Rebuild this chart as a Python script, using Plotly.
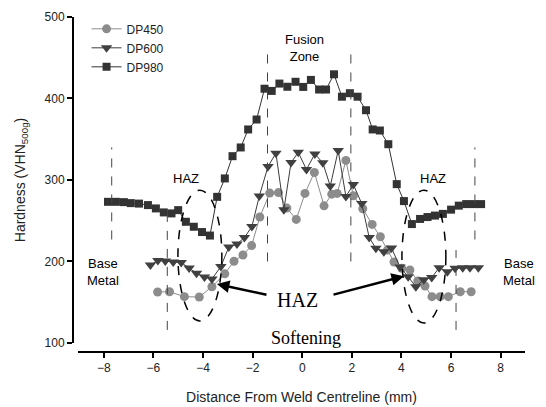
import plotly.graph_objects as go

# hardness traverse data (distance in mm, hardness in VHN)
dp450_x = [-5.83, -5.35, -4.75, -4.15, -3.64, -3.12, -2.75, -2.39, -2.04, -1.71, -1.31, -0.96,
           -0.62, -0.24, 0.11, 0.49, 0.88, 1.19, 1.41, 1.76, 2.06, 2.44, 2.82, 3.15, 3.43, 3.70,
           4.01, 4.34, 4.66, 4.95, 5.23, 5.56, 5.89, 6.37, 6.81]
dp450_y = [162.5, 162.9, 156.8, 156.4, 169.0, 184.8, 200.3, 207.9, 219.5, 254.5, 283.9, 284.5,
           265.5, 251.6, 283.5, 309.2, 268.3, 282.6, 283.5, 324.0, 280.6, 264.7, 245.5, 230.3,
           214.0, 199.3, 191.6, 189.5, 176.0, 169.9, 156.8, 156.8, 156.8, 162.9, 162.9]

dp600_x = [-6.12, -5.82, -5.52, -5.20, -4.88, -4.56, -4.26, -3.94, -3.64, -3.28, -2.96, -2.63,
           -2.33, -2.03, -1.73, -1.38, -1.06, -0.74, -0.45, -0.16, 0.17, 0.51, 0.83, 1.13, 1.45,
           1.76, 2.06, 2.40, 2.70, 2.97, 3.29, 3.60, 3.94, 4.27, 4.58, 4.90, 5.22, 5.52, 5.85,
           6.16, 6.47, 6.76, 7.10]
dp600_y = [195.6, 201.1, 200.5, 199.3, 198.7, 191.9, 185.4, 180.9, 178.5, 193.8, 217.7, 221.4,
           229.3, 242.8, 280.2, 316.4, 332.9, 263.6, 321.3, 333.9, 312.9, 332.0, 321.0, 292.5,
           336.1, 279.8, 294.3, 271.0, 229.3, 216.1, 211.9, 216.5, 193.2, 181.3, 169.0, 177.6,
           180.3, 192.2, 187.4, 191.6, 192.2, 192.2, 192.2]

dp980_x = [-7.83, -7.51, -7.19, -6.91, -6.58, -6.22, -5.90, -5.58, -5.27, -5.00, -4.69, -4.37,
           -4.04, -3.72, -3.43, -3.12, -2.81, -2.48, -2.18, -1.84, -1.52, -1.23, -0.92, -0.60,
           -0.27, 0.04, 0.35, 0.68, 0.96, 1.28, 1.60, 1.92, 2.23, 2.57, 2.84, 3.13, 3.47, 3.81,
           4.10, 4.42, 4.75, 5.05, 5.35, 5.67, 6.00, 6.31, 6.61, 6.92, 7.21]
dp980_y = [273.2, 273.2, 272.8, 271.6, 271.0, 269.2, 265.1, 260.2, 259.0, 263.0, 248.7, 242.6,
           236.1, 231.8, 279.3, 301.9, 329.2, 339.9, 362.0, 374.2, 412.0, 409.3, 418.3, 414.4,
           420.5, 414.2, 422.8, 411.0, 411.0, 429.7, 402.2, 406.5, 402.2, 385.6, 362.0, 360.7,
           343.9, 294.9, 274.1, 245.9, 252.2, 254.5, 256.3, 258.4, 263.6, 268.5, 270.4, 270.4,
           270.4]

# zone boundaries (x, y from, y to)
bound_x = [-7.68, -5.44, -1.40, 1.96, 6.20, 6.96]
bound_y0 = [227, 116, 200, 200, 116, 227]
bound_y1 = [340, 261, 463, 463, 214, 340]

SANS = "Arial, Liberation Sans, sans-serif"
SERIF = "Times New Roman, Liberation Serif, serif"

fig = go.Figure()

fig.add_trace(go.Scatter(
    x=dp450_x, y=dp450_y, name="DP450", mode="lines+markers",
    line=dict(color="#8c8c8c", width=1),
    marker=dict(symbol="circle", size=9, color="#8c8c8c"),
))
fig.add_trace(go.Scatter(
    x=dp600_x, y=dp600_y, name="DP600", mode="lines+markers",
    line=dict(color="#3c3c3c", width=1),
    marker=dict(symbol="triangle-down", size=10, color="#404040"),
))
fig.add_trace(go.Scatter(
    x=dp980_x, y=dp980_y, name="DP980", mode="lines+markers",
    line=dict(color="#333333", width=1),
    marker=dict(symbol="square", size=8, color="#333333"),
))

for bx, y0, y1 in zip(bound_x, bound_y0, bound_y1):
    fig.add_shape(type="line", x0=bx, x1=bx, y0=y0, y1=y1, xref="x", yref="y",
                  line=dict(color="#444444", width=1, dash="dash"))

# HAZ ellipses
fig.add_shape(type="circle", x0=-5.01, x1=-3.24, y0=127, y1=287.5, xref="x", yref="y",
              line=dict(color="black", width=1.5, dash="dash"))
fig.add_shape(type="circle", x0=4.02, x1=5.79, y0=124.5, y1=287.5, xref="x", yref="y",
              line=dict(color="black", width=1.5, dash="dash"))

labels = [
    ("Fusion<br>Zone", 0.11, 461.6),
    ("HAZ", -4.69, 302.3),
    ("HAZ", 5.27, 302.3),
    ("Base<br>Metal", -8.03, 187),
    ("Base<br>Metal", 8.74, 187),
]
for txt, lx, ly in labels:
    fig.add_annotation(x=lx, y=ly, text=txt, showarrow=False,
                       font=dict(family=SANS, size=13, color="black"))

fig.add_annotation(x=-0.21, y=152.7, text="HAZ", showarrow=False,
                   font=dict(family=SERIF, size=20, color="black"))
fig.add_annotation(x=0.15, y=106, text="Softening", showarrow=False,
                   font=dict(family=SERIF, size=18, color="black"))

# arrows from the HAZ label to the soft spots
for hx, hy, tx, ty in [(-3.44, 172.3, -1.38, 158.8), (4.1, 182, 1.2, 158.8)]:
    fig.add_annotation(x=hx, y=hy, ax=tx, ay=ty, xref="x", yref="y", axref="x", ayref="y",
                       text="", showarrow=True, arrowhead=2, arrowsize=1,
                       arrowwidth=2.5, arrowcolor="black")

fig.update_layout(
    width=546,
    height=407,
    margin=dict(l=73, r=21, t=17, b=55, autoexpand=False),
    plot_bgcolor="white",
    paper_bgcolor="white",
    font=dict(family=SANS, size=12, color="#222222"),
    showlegend=True,
    legend=dict(x=0.03, y=1.008, xanchor="left", yanchor="top",
                bgcolor="rgba(0,0,0,0)", font=dict(size=12, color="#222222"),
                tracegroupgap=0),
    xaxis=dict(
        range=[-9.04, 8.98], domain=[0.011, 1], anchor="free", position=0,
        automargin=False,
        tickvals=[-8, -6, -4, -2, 0, 2, 4, 6, 8],
        showline=True, linecolor="black", linewidth=2,
        ticks="outside", ticklen=5, tickwidth=1.5, tickcolor="black",
        showgrid=False, zeroline=False,
        title=dict(text="Distance From Weld Centreline (mm)", font=dict(size=14), standoff=17),
    ),
    yaxis=dict(
        range=[100, 500], domain=[0.027, 1], anchor="free", position=0,
        automargin=False,
        tickvals=[100, 200, 300, 400, 500],
        showline=True, linecolor="black", linewidth=2,
        ticks="outside", ticklen=5, tickwidth=1.5, tickcolor="black",
        showgrid=False, zeroline=False,
        title=dict(text="Hardness (VHN<sub>500g</sub>)", font=dict(size=14), standoff=15),
    ),
)

# drop the default page margin so the figure sits at the window's corner
fig.write_html("out.html", config={"displayModeBar": False},
               post_script="document.body.style.margin='0';")
